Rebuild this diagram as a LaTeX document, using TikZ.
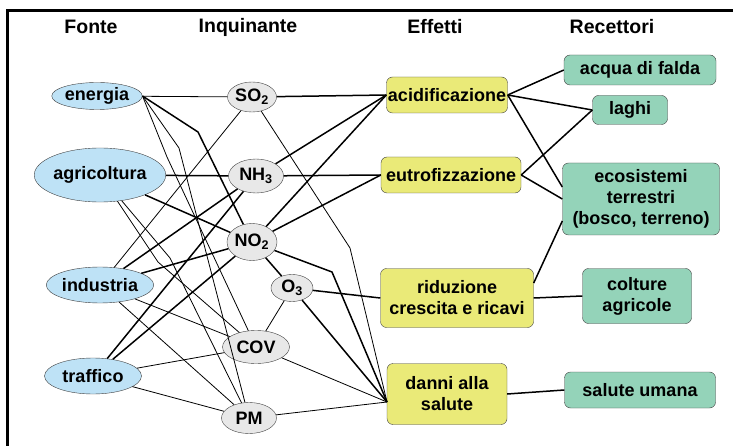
\documentclass[tikz,border=0pt]{standalone}
\usepackage{fontspec}
\setmainfont{Liberation Sans}
\usetikzlibrary{shapes.geometric}
\definecolor{srcblue}{RGB}{190,226,246}
\definecolor{pollgray}{RGB}{232,232,232}
\definecolor{effyellow}{RGB}{234,234,120}
\definecolor{recgreen}{RGB}{148,211,185}
\begin{document}
\begin{tikzpicture}[x=1pt,y=-1pt,
    every node/.style={font=\bfseries\fontsize{18}{21}\selectfont},
    hdr/.style={font=\bfseries\fontsize{19.5}{22}\selectfont},
    src/.style={ellipse,draw=black!75,fill=srcblue,inner sep=0pt},
    poll/.style={ellipse,draw=black!75,fill=pollgray,inner sep=0pt},
    eff/.style={rectangle,rounded corners=6pt,draw=black!75,fill=effyellow,inner sep=0pt,align=center},
    rec/.style={rectangle,rounded corners=6pt,draw=black!75,fill=recgreen,inner sep=0pt,align=center},
    fine/.style={line width=0.8pt},
    heavy/.style={line width=1.5pt}]
    \useasboundingbox (0,0) rectangle (733,446);
    \draw[line width=3pt] (7.5,446) -- (7.5,10.5) -- (733,10.5);

    % headers
    \node[hdr] (hFonte) at (91,27) {Fonte};
    \node[hdr] (hInq) at (248,27) {Inquinante};
    \node[hdr] (hEff) at (435,27) {Effetti};
    \node[hdr] (hRec) at (612,27) {Recettori};

    % bend points
    \coordinate (b1) at (198,132);
    \coordinate (b2) at (167,157);
    \coordinate (b3) at (179,148);
    \coordinate (b4) at (158,262);
    \coordinate (b5) at (170,258);
    \coordinate (b6) at (350,248);
    \coordinate (b7) at (332,272);
    \coordinate (dIn) at (387,402);

    % sources
    \node[src,minimum width=81pt,minimum height=27pt] (energia) at (97,96) {energia};
    \node[src,minimum width=123pt,minimum height=54pt] (agri) at (100,175) {agricoltura};
    \node[src,minimum width=100pt,minimum height=36pt] (industria) at (100,285) {industria};
    \node[src,minimum width=97pt,minimum height=36pt] (traffico) at (93,376) {traffico};

    % pollutants
    \node[poll,minimum width=49pt,minimum height=30pt] (SO2) at (252,97) {SO\textsubscript{2}};
    \node[poll,minimum width=55pt,minimum height=34pt] (NH3) at (256,176) {NH\textsubscript{3}};
    \node[poll,minimum width=50pt,minimum height=37pt] (NO2) at (252,242) {NO\textsubscript{2}};
    \node[poll,minimum width=42pt,minimum height=27pt] (O3) at (292,288) {O\textsubscript{3}};
    \node[poll,minimum width=67pt,minimum height=33pt] (COV) at (256,347) {COV};
    \node[poll,minimum width=55pt,minimum height=31pt] (PM) at (249,418) {PM};

    % effects
    \node[eff,minimum width=121pt,minimum height=36pt] (acid) at (447,95) {acidificazione};
    \node[eff,minimum width=140pt,minimum height=36pt] (eutro) at (451,175) {eutrofizzazione};
    \node[eff,minimum width=153pt,minimum height=59pt] (riduz) at (457,298) {riduzione\\crescita e ricavi};
    \node[eff,minimum width=120pt,minimum height=61pt] (danni) at (447,394) {danni alla\\salute};

    % receptors
    \node[rec,minimum width=152pt,minimum height=30pt] (acqua) at (640,70) {acqua di falda};
    \node[rec,minimum width=75pt,minimum height=29pt] (laghi) at (630,110) {laghi};
    \node[rec,minimum width=157pt,minimum height=72pt] (eco) at (641,199) {ecosistemi\\terrestri\\(bosco, terreno)};
    \node[rec,minimum width=109pt,minimum height=55pt] (colture) at (637,296) {colture\\agricole};
    \node[rec,minimum width=151pt,minimum height=36pt] (salute) at (640,390) {salute umana};

    % source -> pollutant
    \draw[fine] (energia) -- (SO2);
    \draw[heavy] (energia.east) -- (b1) -- (NO2);
    \draw[fine] (energia.east) -- (b2) -- (COV);
    \draw[fine] (energia.east) -- (b3) -- (PM);
    \draw[heavy] (agri) -- (NH3);
    \draw[heavy] (agri) -- (NO2);
    \draw[fine] (agri) -- (b4) -- (COV);
    \draw[fine] (agri) -- (b5) -- (PM);
    \draw[fine] (industria) -- (SO2);
    \draw[heavy] (industria) -- (NH3);
    \draw[heavy] (industria) -- (NO2);
    \draw[fine] (industria) -- (COV);
    \draw[fine] (industria) -- (PM);
    \draw[heavy] (traffico) -- (NH3);
    \draw[heavy] (traffico) -- (NO2);
    \draw[fine] (traffico) -- (COV);
    \draw[fine] (traffico) -- (PM);

    % pollutant -> effect
    \draw[heavy] (SO2) -- (acid.west);
    \draw[fine] (SO2) -- (b6) -- (dIn);
    \draw[heavy] (NH3) -- (acid.west);
    \draw[heavy] (NH3) -- (eutro.west);
    \draw[heavy] (NO2) -- (acid.west);
    \draw[heavy] (NO2) -- (eutro.west);
    \draw[heavy] (NO2) -- (O3);
    \draw[heavy] (NO2) -- (b7) -- (dIn);
    \draw[heavy] (O3) -- (riduz.west);
    \draw[heavy] (O3) -- (dIn);
    \draw[fine] (COV) -- (O3);
    \draw[fine] (COV) -- (dIn);
    \draw[fine] (PM) -- (dIn);

    % effect -> receptor
    \draw[heavy] (acid.east) -- (acqua.west);
    \draw[heavy] (acid.east) -- (laghi.west);
    \draw[heavy] (acid.east) -- ([yshift=12pt]eco.west);
    \draw[heavy] (eutro.east) -- (laghi.west);
    \draw[heavy] (eutro.east) -- (eco.west);
    \draw[heavy] ([yshift=15pt]riduz.east) -- ([yshift=-22pt]eco.west);
    \draw[heavy] (riduz.east) -- (colture.west);
    \draw[heavy] (danni.east) -- (salute.west);
\end{tikzpicture}
\end{document}
